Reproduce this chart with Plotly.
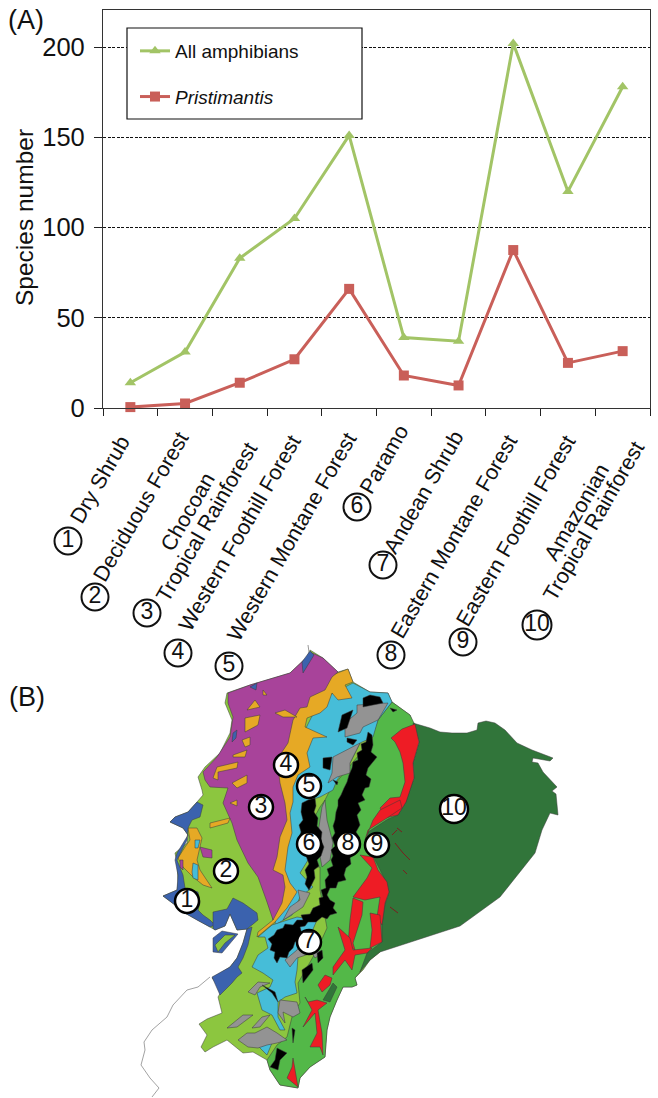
import plotly.graph_objects as go

# ---------- chart data ----------
categories = ["Dry Shrub", "Deciduous Forest", "Chocoan<br>Tropical Rainforest",
              "Western Foothill Forest", "Western Montane Forest", "Paramo",
              "Andean Shrub", "Eastern Montane Forest", "Eastern Foothill Forest",
              "Amazonian<br>Tropical Rainforest"]
all_amphibians = [14, 31, 83, 105, 151, 39, 37, 202, 120, 178]
pristimantis = [0.5, 2.5, 14, 27, 66, 18, 12.5, 87.5, 25, 31.5]
y_ticks = [0, 50, 100, 150, 200]

# ---------- label placement (page pixels), one centre per text line ----------
label_centres = [[(100, 480)], [(141, 507)], [(188, 512), (207, 522)], [(240, 533)], [(292, 537)],
                 [(384, 460)], [(424, 492)], [(454, 537)], [(516, 531)], [(577, 512), (594, 521)]]
label_circles = [(68, 541), (95, 597), (147, 613), (178, 653), (229, 666),
                 (357, 507), (383, 565), (391, 655), (463, 642), (537, 625)]
map_circles = [(187, 901), (226, 871), (261, 807), (286, 765), (309, 786),
               (309, 844), (309, 942), (348, 844), (377, 845), (454, 809)]

# ---------- map regions (map units) ----------
BLUE, LIME, PURPLE, ORANGE, CYAN = "#3B62AE", "#8CC63F", "#A8439A", "#E6A925", "#46BDD8"
GREY, BLACK, GREEN, RED, DARK = "#939393", "#000000", "#53B848", "#EE1C25", "#31753A"

country = [(310,650),(323,658),(338,672),(348,669),(353,682),(370,692),(388,693),(392,702),(410,715),(413,723),
           (413,780),(400,900),(380,952),(370,960),(363,970),(355,978),(357,985),(352,987),(343,987),(337,1000),
           (330,1017),(327,1030),(325,1057),(310,1067),(300,1078),(298,1088),(280,1085),(270,1070),(267,1060),
           (253,1052),(243,1053),(227,1040),(213,1047),(205,1052),(201,1047),(207,1035),(199,1024),(207,1019),
           (222,1013),(218,997),(222,990),(212,978),(230,967),(237,958),(243,943),(247,929),(237,930),(230,914),
           (225,926),(215,930),(210,927),(197,920),(183,912),(175,905),(163,896),(177,890),(178,882),(177,863),
           (175,853),(187,843),(188,835),(183,828),(170,822),(175,817),(188,812),(197,802),(203,795),(202,790),
           (198,777),(205,767),(220,753),(230,733),(232,720),(225,703),(227,693),(250,685),(290,673),(307,657)]
green_east = [(392,702),(410,715),(415,725),(418,743),(413,763),(412,783),(405,807),(398,815),(388,890),(385,905),
              (382,925),(382,943),(367,957),(360,972),(355,978),(357,985),(352,987),(343,987),(337,1000),(330,1017),
              (327,1030),(325,1057),(310,1067),(300,1078),(298,1088),(280,1085),(270,1070),(267,1060),(277,1045),
              (287,1037),(293,1013),(300,1003),(298,983),(307,967),(317,950),(327,928),(320,890),(320,867),(315,867),
              (317,833),(313,820),(320,807),(325,800),(330,790),(363,750),(373,733),(378,720)]
dark_east = [(413,723),(430,728),(440,732),(452,733),(467,733),(477,730),(478,723),(486,721),(495,723),(505,730),
             (517,743),(532,750),(553,758),(550,761),(533,758),(532,762),(538,763),(543,772),(557,787),(552,791),
             (556,794),(558,815),(550,813),(542,830),(535,853),(500,897),(460,926),(380,952),(370,960),(360,972),
             (367,953),(382,942),(382,925),(385,905),(389,892),(385,880),(375,860),(366,842),(368,832),(388,819),
             (398,815),(406,802),(414,778),(413,763),(419,742)]
cyan_north = [(345,687),(353,683),(370,692),(388,693),(392,702),(378,720),(373,737),(360,743),(350,763),(337,780),
              (333,790),(320,797),(310,800),(305,810),(308,830),(308,860),(300,873),(313,887),(300,897),(292,915),
              (275,925),(280,880),(285,800),(300,740),(320,700)]
cyan_south = [(258,937),(272,925),(297,917),(317,920),(307,943),(298,957),(297,970),(295,982),(297,993),(285,997),
              (278,1002),(278,1017),(285,1030),(280,1030),(272,1015),(262,1010),(257,993),(270,987),(273,980),
              (263,973),(252,967),(258,955),(268,948),(265,937)]
cyan_tip = [(257,1045),(267,1043),(272,1043),(267,1055)]
orange_band = [(348,669),(353,682),(345,685),(352,698),(338,700),(332,693),(327,707),(320,713),(307,718),(305,727),
               (327,737),(313,738),(307,753),(310,767),(298,775),(293,787),(293,802),(290,813),(292,833),(288,847),
               (285,870),(290,883),(297,892),(287,908),(275,922),(257,937),(258,932),(273,920),(270,880),(270,800),
               (290,700),(320,680),(340,672)]
purple_west = [(310,652),(323,658),(338,672),(332,677),(325,690),(310,697),(307,707),(300,708),(293,720),(288,743),
               (280,755),(278,767),(280,783),(285,803),(287,820),(280,837),(277,857),(273,870),(283,875),(285,887),
               (282,903),(273,920),(267,902),(258,877),(248,863),(237,840),(232,823),(223,803),(228,788),(210,787),
               (205,780),(203,772),(217,757),(230,737),(233,717),(228,703),(228,693),(250,685),(290,673),(307,657)]
orange_patches = [[(275,713),(285,710),(297,717),(283,717)],
                  [(245,718),(260,715),(258,725),(245,732)],
                  [(242,740),(250,737),(250,745),(245,747)],
                  [(233,755),(247,750),(245,757),(233,757)],
                  [(217,767),(238,762),(237,768),(218,772),(218,780),(213,778)],
                  [(232,783),(247,775),(247,783),(237,788)],
                  [(263,690),(267,695),(263,695)],
                  [(255,700),(260,707),(247,710)],
                  [(230,803),(237,800),(237,806)],
                  [(210,823),(230,818),(228,823),(210,828)],
                  [(188,828),(197,828),(202,838),(197,860),(200,870),(210,885),(212,888),(203,885),(193,877),
                   (183,867),(178,858),(185,847),(190,840)]]
cyan_patches = [[(193,863),(198,865),(198,880),(193,878),(192,872)],
                [(195,840),(200,840),(198,848),(195,848)]]
purple_patches = [[(200,847),(212,850),(212,858),(203,857)],
                  [(180,860),(183,860),(183,870),(180,867)]]
blue_coast = [(163,896),(177,890),(178,875),(175,860),(177,853),(185,840),(188,835),(183,828),(170,822),(175,817),
              (188,812),(197,802),(203,805),(200,817),(192,820),(188,828),(187,840),(177,860),(183,875),(185,888),
              (198,892),(200,903),(198,910),(203,915),(210,920),(215,925),(210,927),(197,920),(183,912),(175,905)]
blue_gulf_north = [(213,928),(215,930),(225,926),(230,914),(237,930),(247,929),(258,920),(257,913),(243,903),(233,898),
                   (227,909),(213,912)]
blue_gulf_east = [(247,929),(252,927),(248,945),(243,958),(238,967),(242,973),(237,977),(232,983),(220,995),(215,983),
                  (212,977),(230,967),(237,958),(243,943)]
blue_specks = [[(233,733),(237,730),(236,738),(232,742)], [(250,687),(257,683),(256,690)],
               [(302,662),(310,651),(314,655),(303,673)]]
island_blue = [(213,938),(222,931),(238,934),(230,943),(222,953),(213,952)]
island_lime = [(215,945),(225,935),(235,935),(225,943),(218,952)]
grey_patches = [[(357,705),(388,703),(378,720),(363,727),(360,733),(345,737),(345,723),(357,713)],
                [(333,757),(360,743),(350,763),(350,773),(337,777),(328,783),(332,773)],
                [(325,800),(327,820),(333,843),(330,860),(322,867),(317,840),(320,820),(322,807)],
                [(283,920),(290,907),(300,900),(298,890),(310,893),(303,907),(288,917)],
                [(290,967),(285,960),(297,950),(303,942),(322,953),(315,958),(312,953),(297,958)],
                [(248,992),(258,982),(270,983),(260,987),(255,995)],
                [(280,1000),(297,1002),(300,1013),(293,1017),(283,1012),(285,1023),(278,1013)],
                [(227,1028),(243,1015),(253,1015),(237,1027)],
                [(252,1028),(262,1017),(270,1015),(260,1027)],
                [(238,1040),(247,1033),(255,1033),(267,1027),(277,1033),(287,1040),(277,1043),(267,1045),(258,1048),(248,1047)]]
black_patches = [[(363,698),(370,695),(380,697),(383,703),(373,705),(363,707)],
                 [(390,708),(397,710),(393,712)],
                 [(342,715),(353,710),(347,728),(338,732)],
                 [(347,738),(357,740),(353,745),(347,742)],
                 [(323,758),(332,757),(330,770),(323,768)],
                 [(333,780),(338,782),(337,785)],
                 [(368,732),(372,735),(373,745),(371,752),(377,757),(373,762),(368,768),(366,775),(371,779),(369,787),
                  (365,788),(362,795),(365,800),(358,803),(361,810),(357,815),(360,825),(356,832),(360,838),(354,848),
                  (356,853),(350,858),(351,864),(346,868),(344,875),(346,880),(338,882),(336,888),(330,888),(327,895),
                  (330,900),(335,903),(333,908),(337,913),(330,915),(327,919),(322,917),(316,922),(308,922),(305,926),
                  (300,927),(302,934),(299,940),(295,942),(293,948),(289,952),(287,958),(280,957),(277,963),(274,958),
                  (275,952),(270,950),(272,944),(268,939),(274,935),(277,930),(283,928),(285,924),(293,925),(297,920),
                  (303,920),(301,915),(310,914),(313,908),(320,905),(319,898),(323,897),(321,890),(326,888),(325,880),
                  (329,875),(327,869),(333,866),(331,860),(333,856),(331,850),(335,846),(332,838),(335,833),(333,826),
                  (335,820),(336,812),(338,806),(338,800),(341,795),(344,788),(347,782),(349,775),(352,768),(353,762),
                  (358,760),(357,753),(362,750),(361,744),(366,742)],
                 [(302,803),(308,800),(315,798),(316,806),(314,812),(318,818),(317,826),(322,832),(321,840),(324,847),
                  (321,856),(317,860),(319,866),(314,870),(315,878),(312,884),(309,890),(305,884),(307,877),(305,870),
                  (309,864),(306,856),(302,851),(303,845),(298,840),(301,832),(299,825),(303,820),(301,812)],
                 [(302,970),(312,963),(313,970),(303,983)],
                 [(262,985),(275,992),(278,1002),(272,993)],
                 [(292,1028),(295,1030),(293,1043)],
                 [(277,1048),(287,1053),(280,1060),(278,1070),(270,1067),(275,1060)],
                 [(317,953),(322,950),(323,958),(318,963)]]
red_patches = [[(391,738),(402,729),(415,724),(419,742),(413,763),(414,778),(406,802),(398,815),(385,818),(380,808),
                (390,798),(400,797),(405,782),(403,763),(400,752),(395,742)],
               [(373,820),(380,810),(400,800),(402,808),(387,818),(368,830),(365,840)],
               [(360,855),(373,857),(378,870),(387,882),(389,892),(385,903),(382,925),(377,917),(380,897),(365,900),
                (353,897),(367,878),(372,868)],
               [(353,898),(363,902),(362,915),(353,943),(355,950),(348,945),(350,920)],
               [(370,913),(380,915),(382,942),(370,948),(372,930)],
               [(338,927),(350,938),(353,950),(372,948),(367,953),(355,955),(352,970),(345,960),(333,975),(333,967),(345,950)],
               [(318,985),(325,975),(332,978),(330,985),(322,992)],
               [(305,997),(308,1002),(317,1000),(327,1003),(318,1010),(322,1033),(323,1055),(320,1047),(310,1047),
                (317,1033),(315,1013),(303,1027),(312,1010)],
               [(293,1058),(295,1070),(298,1087),(287,1078),(292,1067)]]
dark_patches = [[(323,1000),(333,983),(337,987),(330,1002)]]
river_line = [(308,645),(309,652)]
river_south = [(210,977),(198,987),(187,990),(173,1005),(167,1017),(152,1030),(144,1042),(145,1050),(141,1065),
               (150,1078),(159,1088),(152,1097)]
forest_specks = [[(395,843),(403,853),(410,860)], [(390,907),(398,913)], [(397,828),(402,832)],
                 [(392,835),(397,830)], [(403,870),(407,874)]]

map_layers = [(country, LIME), (green_east, GREEN), (dark_east, DARK), (cyan_north, CYAN), (cyan_south, CYAN),
              (cyan_tip, CYAN), (orange_band, ORANGE), (purple_west, PURPLE)]
map_layers += [(p, ORANGE) for p in orange_patches]
map_layers += [(p, CYAN) for p in cyan_patches]
map_layers += [(p, PURPLE) for p in purple_patches]
map_layers += [(blue_coast, BLUE), (blue_gulf_north, BLUE), (blue_gulf_east, BLUE)]
map_layers += [(p, BLUE) for p in blue_specks]
map_layers += [(island_blue, BLUE), (island_lime, LIME)]
map_layers += [(p, GREY) for p in grey_patches]
map_layers += [(p, BLACK) for p in black_patches]
map_layers += [(p, RED) for p in red_patches]
map_layers += [(p, DARK) for p in dark_patches]

W, H = 658, 1098
fig = go.Figure()

fig.add_trace(go.Scatter(x=categories, y=all_amphibians, name="All amphibians", mode="lines+markers",
                         legendgroup="a", line=dict(color="#A2C466", width=3),
                         marker=dict(symbol="triangle-up", size=10, color="#A2C466"), cliponaxis=False))
fig.add_trace(go.Scatter(x=categories, y=pristimantis, name="<i>Pristimantis</i>", mode="lines+markers",
                         legendgroup="b", line=dict(color="#C95F59", width=3),
                         marker=dict(symbol="square", size=10, color="#C95F59"), cliponaxis=False))

for pts, col in map_layers:
    fig.add_trace(go.Scatter(x=[p[0] for p in pts] + [pts[0][0]], y=[p[1] for p in pts] + [pts[0][1]],
                             xaxis="x2", yaxis="y2", mode="lines", fill="toself", fillcolor=col,
                             line=dict(color="#3A3A3A", width=0.5), hoverinfo="skip", showlegend=False))
for pts, col, wd in [(river_line, "#999999", 1), (river_south, "#8A8A8A", 0.8)] + [(p, "#7A1F1F", 1) for p in forest_specks]:
    fig.add_trace(go.Scatter(x=[p[0] for p in pts], y=[p[1] for p in pts], xaxis="x2", yaxis="y2", mode="lines",
                             line=dict(color=col, width=wd), hoverinfo="skip", showlegend=False))

numbers = [str(i + 1) for i in range(10)]
fig.add_trace(go.Scatter(x=[c[0] for c in label_circles], y=[c[1] for c in label_circles], xaxis="x2", yaxis="y2",
                         mode="markers+text", text=numbers, textposition="middle center",
                         textfont=dict(family="Liberation Sans", size=23, color="#111111"),
                         marker=dict(size=[27] * 9 + [29], opacity=1, color="#FFFFFF",
                                     line=dict(color="#111111", width=2)),
                         hoverinfo="skip", showlegend=False))
fig.add_trace(go.Scatter(x=[c[0] for c in map_circles], y=[c[1] for c in map_circles], xaxis="x2", yaxis="y2",
                         mode="markers+text", text=numbers, textposition="middle center",
                         textfont=dict(family="Liberation Sans", size=23, color="#111111"),
                         marker=dict(size=[24] * 9 + [28], opacity=1, color="#FFFFFF",
                                     line=dict(color="#000000", width=2.5)),
                         hoverinfo="skip", showlegend=False))

annotations = []
for cat, centres in zip(categories, label_centres):
    for line, c in zip(cat.split("<br>"), centres):
        annotations.append(dict(x=c[0], y=c[1], xref="x2", yref="y2", text=line, showarrow=False, textangle=-60,
                                xanchor="center", yanchor="middle", align="center",
                                font=dict(family="Liberation Sans", size=21.5, color="#111111")))
for t, px, py in [("(A)", 26, 20), ("(B)", 27, 697)]:
    annotations.append(dict(x=px, y=py, xref="x2", yref="y2", text=t, showarrow=False,
                            font=dict(family="Liberation Sans", size=27, color="#111111")))
annotations.append(dict(x=24, y=218, xref="x2", yref="y2", text="Species number", showarrow=False, textangle=-90,
                        font=dict(family="Liberation Sans", size=24.5, color="#111111")))

fig.update_layout(
    width=W, height=H, autosize=False, margin=dict(l=0, r=0, t=0, b=0, autoexpand=False),
    paper_bgcolor="white", plot_bgcolor="rgba(0,0,0,0)", showlegend=True,
    font=dict(family="Liberation Sans", color="#111111"),
    xaxis=dict(domain=[103 / W, 650 / W], type="category", categoryorder="array", categoryarray=categories,
               range=[-0.5, 9.5], tickson="boundaries", ticks="outside", ticklen=7, tickwidth=1.2,
               tickcolor="#222222", showticklabels=False, showgrid=False, zeroline=False,
               showline=True, linecolor="#333333", linewidth=1.2, mirror=True, anchor="y"),
    yaxis=dict(domain=[1 - 408 / H, 1 - 10 / H], range=[0, 220.5], tickvals=y_ticks, ticks="outside", ticklen=8,
               tickwidth=1.2, tickcolor="#222222", tickfont=dict(size=25.5), ticklabelstandoff=4,
               showgrid=True, griddash="3px,1.5px", gridcolor="#111111", gridwidth=1, zeroline=False,
               showline=True, linecolor="#333333", linewidth=1.2, mirror=True, anchor="x"),
    xaxis2=dict(domain=[0, 1], range=[0, W], visible=False, anchor="y2"),
    yaxis2=dict(domain=[0, 1], range=[H, 0], visible=False, anchor="x2"),
    legend=dict(x=135 / W, y=1 - 32 / H, xanchor="left", yanchor="top", bgcolor="rgba(0,0,0,0)", borderwidth=0,
                font=dict(family="Liberation Sans", size=19, color="#111111"), itemwidth=30,
                tracegroupgap=18, traceorder="grouped"),
    shapes=[dict(type="rect", xref="x2", yref="y2", x0=127, x1=362, y0=28, y1=119, layer="above",
                 fillcolor="white", line=dict(color="#111111", width=1.2))],
    annotations=annotations,
)
fig.write_html("out.html", config={"displayModeBar": False}, post_script="document.body.style.margin='0';")
